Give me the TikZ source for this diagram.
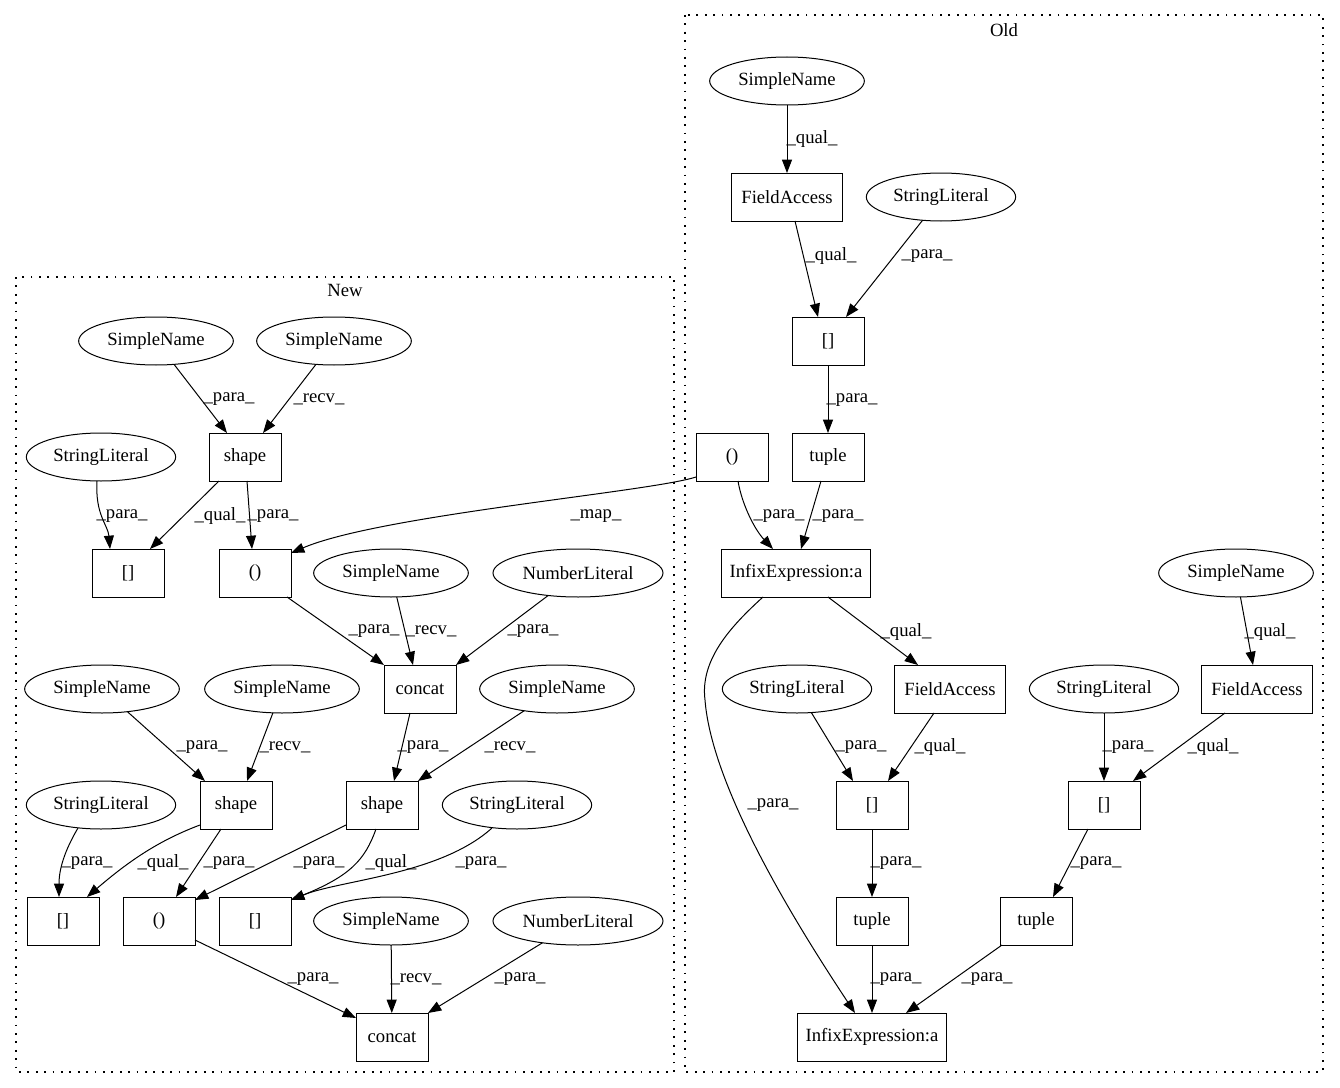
\documentclass[tikz,border=0pt]{standalone}
\usepackage{fontspec}
\setmainfont{Liberation Serif}
\usetikzlibrary{shapes.geometric,arrows.meta,calc}
\begin{document}
\begin{tikzpicture}[x=0.75pt,y=-0.75pt,
  font=\fontsize{14pt}{16pt}\selectfont,
  every node/.style={inner sep=0pt, outer sep=0pt},
  bx/.style={draw, line width=0.75pt, rectangle, minimum width=54pt, minimum height=36pt},
  wbx/.style={bx, minimum width=#1},
  el/.style={draw, line width=0.75pt, ellipse, minimum height=36pt, minimum width=#1},
  edge/.style={line width=0.75pt, -{Triangle[length=10pt,width=7.5pt]}},
  lbl/.style={anchor=center},
  clus/.style={line width=1.2pt, dash pattern=on 1.3pt off 5pt}
]
\useasboundingbox (0,0) rectangle (1340,1088);
\fill[white] (0,0) rectangle (1340,1088);

% clusters
\draw[clus] (685,15) rectangle (1323,1072);
\node[lbl] (oldlbl) at (1004,30) {Old};
\draw[clus] (16,277) rectangle (674,1072);
\node[lbl] (newlbl) at (345,290) {New};

% ---------- Old nodes ----------
\node[el=116pt] (o_sn) at (787,81) {SimpleName};
\node[wbx=83pt] (o_fa1) at (787,197) {FieldAccess};
\node[el=112pt] (o_sl1) at (941,197) {StringLiteral};
\node[bx] (o_ix1) at (828,341) {[]};
\node[bx] (o_tu1) at (828,457) {tuple};
\node[bx] (o_par) at (732,457) {()};
\node[wbx=112pt] (o_inf1) at (796,573) {InfixExpression:a};
\node[el=116pt] (o_sn2) at (1236,573) {SimpleName};
\node[el=112pt] (o_sl2) at (797,689) {StringLiteral};
\node[wbx=83pt] (o_fa2) at (950,689) {FieldAccess};
\node[el=112pt] (o_sl3) at (1104,689) {StringLiteral};
\node[wbx=83pt] (o_fa3) at (1257,689) {FieldAccess};
\node[bx] (o_ix2) at (872,805) {[]};
\node[bx] (o_ix3) at (1104,805) {[]};
\node[bx] (o_tu2) at (872,921) {tuple};
\node[bx] (o_tu3) at (1036,921) {tuple};
\node[wbx=112pt] (o_inf2) at (872,1037) {InfixExpression:a};

% ---------- New nodes ----------
\node[el=116pt] (n_sn1) at (156,341) {SimpleName};
\node[el=116pt] (n_sn2) at (334,341) {SimpleName};
\node[el=112pt] (n_sl1) at (101,457) {StringLiteral};
\node[bx] (n_sh1) at (245,457) {shape};
\node[bx] (n_ix1) at (128,573) {[]};
\node[bx] (n_par1) at (255,573) {()};
\node[el=116pt] (n_sn3) at (391,573) {SimpleName};
\node[el=127.5pt] (n_nl1) at (578,573) {NumberLiteral};
\node[bx] (n_cc1) at (420,689) {concat};
\node[el=116pt] (n_sn4) at (102,689) {SimpleName};
\node[el=116pt] (n_sn5) at (282,689) {SimpleName};
\node[el=116pt] (n_sn6) at (557,689) {SimpleName};
\node[el=112pt] (n_sl2) at (101,805) {StringLiteral};
\node[bx] (n_sh2) at (236,805) {shape};
\node[bx] (n_sh3) at (382,805) {shape};
\node[el=112pt] (n_sl3) at (517,805) {StringLiteral};
\node[bx] (n_ix2) at (63,921) {[]};
\node[bx] (n_par2) at (159,921) {()};
\node[bx] (n_ix3) at (255,921) {[]};
\node[el=116pt] (n_sn7) at (391,921) {SimpleName};
\node[el=127.5pt] (n_nl2) at (578,921) {NumberLiteral};
\node[bx] (n_cc2) at (392,1037) {concat};

% ---------- Old edges ----------
\draw[edge] (o_sn) -- (o_fa1);
\draw[edge] ($(o_fa1.south)+(8,0)$) -- ($(o_ix1.north)+(-10,0)$);
\draw[edge] (o_sl1) -- ($(o_ix1.north)+(18,0)$);
\draw[edge] (o_ix1) -- (o_tu1);
\draw[edge] ($(o_par.south)+(6,0)$) .. controls (742,505) and (755,530) .. ($(o_inf1.north)+(-23,0)$);
\draw[edge] ($(o_tu1.south)+(-7,0)$) -- ($(o_inf1.north)+(5,0)$);
\draw[edge] ($(o_par.west)+(0,20)$) .. controls (650,492) and (380,515) .. ($(n_par1.north east)+(0,4)$);
\draw[edge] ($(o_inf1.south)+(32,0)$) -- ($(o_fa2.north)+(-32,0)$);
\draw[edge] ($(o_inf1.south)+(-33,0)$) .. controls (730,627) and (700,660) .. (705,700)
   .. controls (712,790) and (800,930) .. ($(o_inf2.north)+(-17,0)$);
\draw[edge] (o_sn2) -- ($(o_fa3.north)+(-4,0)$);
\draw[edge] (o_sl2) -- ($(o_ix2.north)+(-19,0)$);
\draw[edge] ($(o_fa2.south)+(-16,0)$) -- ($(o_ix2.north)+(16,0)$);
\draw[edge] (o_sl3) -- (o_ix3);
\draw[edge] ($(o_fa3.south)+(-32,0)$) -- ($(o_ix3.north)+(29,0)$);
\draw[edge] (o_ix2) -- (o_tu2);
\draw[edge] ($(o_ix3.south)+(-16,0)$) -- ($(o_tu3.north)+(17,0)$);
\draw[edge] (o_tu2) -- (o_inf2);
\draw[edge] ($(o_tu3.south)+(-34,0)$) -- ($(o_inf2.north)+(34,0)$);

% ---------- New edges ----------
\draw[edge] (n_sn1) -- ($(n_sh1.north)+(-18,0)$);
\draw[edge] (n_sn2) -- ($(n_sh1.north)+(18,0)$);
\draw[edge] ($(n_sl1.south)+(-4,0)$) .. controls (95,515) and (108,525) .. ($(n_ix1.north)+(-18,0)$);
\draw[edge] ($(n_sh1.south)+(-26,0)$) -- ($(n_ix1.north)+(22,0)$);
\draw[edge] ($(n_sh1.south)+(2,0)$) -- ($(n_par1.north)+(-3,0)$);
\draw[edge] ($(n_par1.south east)+(-4,0)$) -- (n_cc1.north west);
\draw[edge] (n_sn3) -- ($(n_cc1.north)+(-7,0)$);
\draw[edge] (n_nl1) -- (n_cc1.north east);
\draw[edge] ($(n_cc1.south)+(-10,0)$) -- ($(n_sh3.north)+(12,0)$);
\draw[edge] (n_sn6) -- (n_sh3.north east);
\draw[edge] (n_sn4) -- ($(n_sh2.north)+(-31,0)$);
\draw[edge] (n_sn5) -- ($(n_sh2.north)+(11,0)$);
\draw[edge] ($(n_sl2.south)+(-23,-1)$) .. controls (68,845) and (59,865) .. ($(n_ix2.north)+(-4,0)$);
\draw[edge] ($(n_sh2.south west)+(0,-4)$) .. controls (160,840) and (130,860) .. ($(n_ix2.north)+(24,0)$);
\draw[edge] ($(n_sh2.south)+(-15,0)$) -- ($(n_par2.north)+(17,0)$);
\draw[edge] ($(n_sh3.south west)+(0,-4)$) -- ($(n_par2.north east)+(0,3)$);
\draw[edge] ($(n_sh3.south)+(-6,0)$) .. controls (365,860) and (350,876) .. ($(n_ix3.north east)+(0,3)$);
\draw[edge] ($(n_sl3.south)+(-25,-1)$) .. controls (440,875) and (340,880) .. ($(n_ix3.north east)+(0,3)$);
\draw[edge] ($(n_par2.east)+(0,19)$) -- ($(n_cc2.west)+(0,-19)$);
\draw[edge] (n_sn7) -- (n_cc2);
\draw[edge] (n_nl2) -- (n_cc2.north east);

% ---------- labels ----------
\node[lbl] (l1) at (812,139) {\_qual\_};
\node[lbl] (l2) at (831,256) {\_qual\_};
\node[lbl] (l3) at (927,256) {\_para\_};
\node[lbl] (l4) at (852,400) {\_para\_};
\node[lbl] (l5) at (779,516) {\_para\_};
\node[lbl] (l6) at (838,516) {\_para\_};
\node[lbl] (l7) at (596,516) {\_map\_};
\node[lbl] (l8) at (906,632) {\_qual\_};
\node[lbl] (l9) at (773,805) {\_para\_};
\node[lbl] (l10) at (861,747) {\_para\_};
\node[lbl] (l11) at (940,747) {\_qual\_};
\node[lbl] (l12) at (896,863) {\_para\_};
\node[lbl] (l13) at (1270,632) {\_qual\_};
\node[lbl] (l14) at (1128,747) {\_para\_};
\node[lbl] (l15) at (1213,747) {\_qual\_};
\node[lbl] (l16) at (1096,863) {\_para\_};
\node[lbl] (l17) at (896,979) {\_para\_};
\node[lbl] (l18) at (987,979) {\_para\_};

\node[lbl] (m1) at (229,399) {\_para\_};
\node[lbl] (m2) at (319,399) {\_recv\_};
\node[lbl] (m3) at (122,516) {\_para\_};
\node[lbl] (m4) at (220,516) {\_qual\_};
\node[lbl] (m5) at (273,516) {\_para\_};
\node[lbl] (m6) at (374,631) {\_para\_};
\node[lbl] (m7) at (431,631) {\_recv\_};
\node[lbl] (m8) at (533,631) {\_para\_};
\node[lbl] (m9) at (423,747) {\_para\_};
\node[lbl] (m10) at (510,747) {\_recv\_};
\node[lbl] (m11) at (202,747) {\_para\_};
\node[lbl] (m12) at (285,747) {\_recv\_};
\node[lbl] (m13) at (87,863) {\_para\_};
\node[lbl] (m14) at (163,863) {\_qual\_};
\node[lbl] (m15) at (229,863) {\_para\_};
\node[lbl] (m16) at (319,863) {\_para\_};
\node[lbl] (m17) at (391,863) {\_qual\_};
\node[lbl] (m18) at (481,863) {\_para\_};
\node[lbl] (m19) at (313,979) {\_para\_};
\node[lbl] (m20) at (416,979) {\_recv\_};
\node[lbl] (m21) at (520,979) {\_para\_};
\end{tikzpicture}
\end{document}
